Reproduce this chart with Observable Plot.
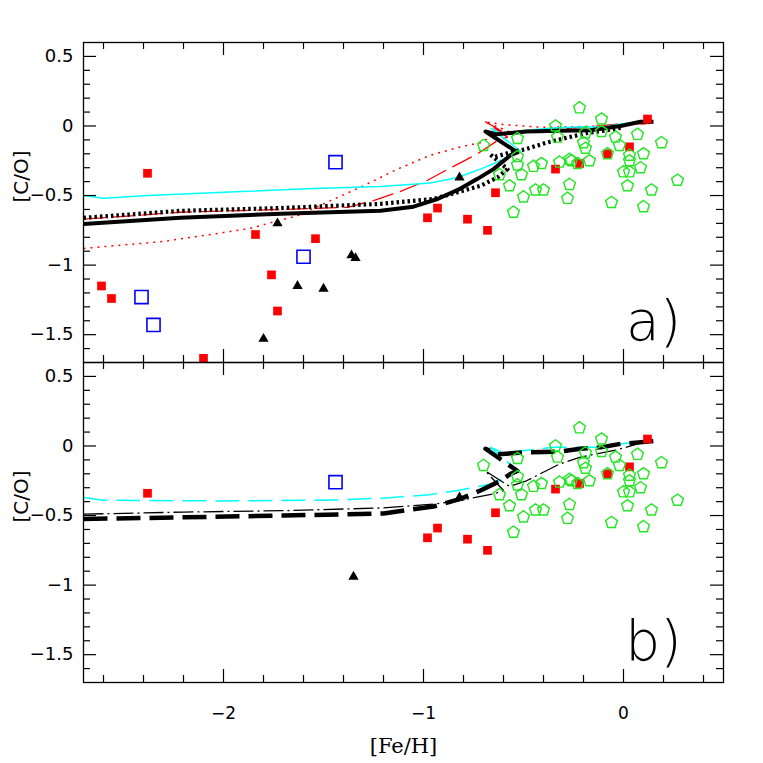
<!DOCTYPE html>
<html><head><meta charset="utf-8">
<script src="https://cdn.jsdelivr.net/npm/d3@7"></script>
<script src="https://cdn.jsdelivr.net/npm/@observablehq/plot@0.6"></script>
<style>
body{margin:0;background:#fff;}
#wrap{position:relative;width:763px;height:763px;overflow:hidden;}
#wrap svg{position:absolute;left:0;background:none !important;overflow:visible;}
</style></head><body><div id="wrap"></div>
<script>
// ---------- tick values ----------
const xMajorTicks = [-2, -1, 0];
const xMinorTicks = [-2.6, -2.4, -2.2, -1.8, -1.6, -1.4, -1.2, -0.8, -0.6, -0.4, -0.2, 0.2, 0.4];
const yMajorTicks = [0.5, 0, -0.5, -1, -1.5];
const yMinorTicks = [0.4, 0.3, 0.2, 0.1, -0.1, -0.2, -0.3, -0.4, -0.6, -0.7, -0.8, -0.9, -1.1, -1.2, -1.3, -1.4, -1.6];

// ---------- observations ([Fe/H], [C/O]) ----------
const redSquaresA = [[-2.61,-1.15],[-2.56,-1.24],[-2.38,-0.34],[-2.10,-1.67],[-1.84,-0.78],[-1.76,-1.07],[-1.73,-1.33],[-1.54,-0.81],[-0.98,-0.66],[-0.93,-0.59],[-0.78,-0.67],[-0.68,-0.75],[-0.64,-0.48],[-0.34,-0.31],[-0.22,-0.27],[-0.08,-0.20],[0.03,-0.15],[0.12,0.05]];
const blueSquaresA = [[-2.41,-1.23],[-2.35,-1.43],[-1.44,-0.26],[-1.60,-0.94]];
const trianglesA = [[-1.80,-1.53],[-1.73,-0.70],[-1.63,-1.15],[-1.50,-1.17],[-1.36,-0.93],[-1.34,-0.95],[-0.82,-0.37]];
const redSquaresB = [[-2.38,-0.34],[-0.98,-0.66],[-0.93,-0.59],[-0.78,-0.67],[-0.68,-0.75],[-0.64,-0.48],[-0.34,-0.31],[-0.22,-0.27],[-0.08,-0.20],[0.03,-0.15],[0.12,0.05]];
const blueSquaresB = [[-1.44,-0.26]];
const trianglesB = [[-1.35,-0.94],[-0.82,-0.37]];
const pentagons = [[-0.22,0.13],[-0.11,0.05],[-0.34,0.00],[-0.53,-0.09],[-0.70,-0.14],[-0.33,-0.08],[-0.19,-0.05],[-0.11,-0.04],[-0.04,-0.08],[0.07,-0.06],[0.19,-0.12],[-0.20,-0.12],[-0.19,-0.16],[-0.02,-0.14],[0.03,-0.21],[0.10,-0.20],[-0.08,-0.20],[-0.53,-0.22],[-0.53,-0.28],[-0.62,-0.35],[-0.51,-0.35],[-0.57,-0.43],[-0.45,-0.29],[-0.41,-0.27],[-0.32,-0.26],[-0.27,-0.24],[-0.26,-0.25],[-0.23,-0.27],[-0.17,-0.25],[0.03,-0.25],[0.085,-0.30],[0.00,-0.33],[0.03,-0.33],[0.02,-0.43],[0.27,-0.39],[0.14,-0.46],[-0.27,-0.42],[-0.40,-0.46],[-0.44,-0.46],[-0.50,-0.51],[-0.28,-0.52],[-0.06,-0.55],[0.10,-0.58],[-0.55,-0.62]];

// ---------- model tracks, panel a ----------
const redDotA = [[-2.7,-0.88],[-2.3,-0.83],[-1.88,-0.74],[-1.63,-0.645],[-1.465,-0.537],[-1.3,-0.43],[-1.13,-0.31],[-0.965,-0.21],[-0.815,-0.15],[-0.715,-0.12],[-0.665,-0.08],[-0.565,-0.045],[-0.69,0.03],[-0.60,0.01],[-0.4,-0.01],[-0.1,0.0],[0.15,0.02]];
const redDashA = [[-2.7,-0.67],[-2.215,-0.62],[-1.715,-0.60],[-1.38,-0.585],[-1.25,-0.537],[-1.115,-0.47],[-0.98,-0.39],[-0.85,-0.29],[-0.73,-0.20],[-0.63,-0.105],[-0.58,-0.08],[-0.69,0.03],[-0.60,-0.045],[-0.485,-0.035],[-0.215,-0.01],[-0.015,0.015],[0.15,0.015]];
const cyanA = [[-2.7,-0.50],[-2.6,-0.52],[-2.38,-0.50],[-1.88,-0.47],[-1.55,-0.45],[-1.215,-0.435],[-0.965,-0.41],[-0.83,-0.37],[-0.715,-0.31],[-0.615,-0.25],[-0.515,-0.18],[-0.66,-0.02],[-0.60,-0.06],[-0.485,-0.03],[-0.35,-0.015],[-0.215,-0.005],[-0.115,-0.01],[-0.015,0.015],[0.14,0.04]];
const blackDotA = [[-2.7,-0.66],[-2.215,-0.61],[-1.715,-0.59],[-1.215,-0.56],[-0.95,-0.525],[-0.815,-0.47],[-0.715,-0.43],[-0.63,-0.37],[-0.58,-0.31],[-0.67,-0.20],[-0.65,-0.225],[-0.565,-0.19],[-0.485,-0.165],[-0.385,-0.12],[-0.27,-0.08],[-0.18,-0.05],[-0.08,-0.03],[0.0,-0.01]];
const blackSolidA = [[-2.7,-0.705],[-2.215,-0.66],[-1.715,-0.63],[-1.215,-0.61],[-1.05,-0.58],[-0.93,-0.525],[-0.815,-0.45],[-0.73,-0.38],[-0.65,-0.31],[-0.565,-0.21],[-0.53,-0.19],[-0.69,-0.04],[-0.635,-0.06],[-0.485,-0.04],[-0.32,-0.035],[-0.165,-0.03],[-0.015,0.0],[0.085,0.03],[0.15,0.03]];

// ---------- model tracks, panel b ----------
const cyanB = [[-2.7,-0.37],[-2.6,-0.39],[-2.0,-0.395],[-1.5,-0.39],[-1.2,-0.375],[-0.97,-0.35],[-0.83,-0.32],[-0.65,-0.27],[-0.55,-0.20],[-0.53,-0.18],[-0.665,-0.01],[-0.60,-0.05],[-0.35,-0.01],[-0.08,-0.01],[-0.015,0.015],[0.135,0.04]];
const dashDotB = [[-2.7,-0.49],[-2.2,-0.475],[-1.7,-0.465],[-1.2,-0.445],[-0.93,-0.415],[-0.815,-0.39],[-0.65,-0.345],[-0.60,-0.32],[-0.69,-0.18],[-0.57,-0.29],[-0.485,-0.25],[-0.32,-0.13],[-0.215,-0.08],[-0.04,-0.03],[0.085,0.02],[0.15,0.03]];
const blackDashB = [[-2.7,-0.525],[-2.2,-0.513],[-1.7,-0.50],[-1.2,-0.485],[-0.95,-0.435],[-0.815,-0.38],[-0.715,-0.32],[-0.615,-0.25],[-0.565,-0.20],[-0.53,-0.18],[-0.69,-0.02],[-0.63,-0.06],[-0.485,-0.045],[-0.32,-0.04],[-0.215,-0.02],[-0.115,-0.01],[-0.015,0.015],[0.15,0.035]];

// ---------- drawing ----------
const fmt = v => v < 0 ? "\u2212" + String(Math.abs(v)) : String(v);
const pentagonSymbol = {
  draw(ctx, size) {
    const r = Math.sqrt(size / Math.PI);
    for (let i = 0; i < 5; i++) {
      const a = -Math.PI / 2 + i * 2 * Math.PI / 5;
      const px = r * Math.cos(a), py = r * Math.sin(a);
      if (i) ctx.lineTo(px, py); else ctx.moveTo(px, py);
    }
    ctx.closePath();
  }
};

function panel({top, height, mTop, mBottom, lines, reds, blues, tris, label, xAxis}) {
  const W = 763, ML = 83, MR = 40;
  const FH = height - mTop - mBottom, FW = W - ML - MR;
  const tk = {stroke: "black", strokeWidth: 1.2};
  const marks = [];
  for (const L of lines) {
    marks.push(Plot.line(L.data, {x: d => d[0], y: d => d[1], stroke: L.color, strokeWidth: L.width,
      strokeDasharray: L.dash, strokeLinejoin: "round", strokeLinecap: "butt"}));
  }
  marks.push(
    Plot.dot(reds, {x: d => d[0], y: d => d[1], symbol: "square", r: 4.9, fill: "#ff0000"}),
    Plot.dot(blues, {x: d => d[0], y: d => d[1], symbol: "square", r: 7.4, fill: "none", stroke: "#0000ff", strokeWidth: 1.6}),
    Plot.dot(tris, {x: d => d[0], y: d => d[1], symbol: "triangle", r: 3.8, fill: "black"}),
    Plot.dot(pentagons, {x: d => d[0], y: d => d[1], symbol: pentagonSymbol, r: 6.2, fill: "none", stroke: "#22e622", strokeWidth: 1.4}),
    Plot.frame({stroke: "black", strokeWidth: 1.3}),
    // inward ticks on all four sides
    Plot.tickX(xMajorTicks, {x: d => d, insetTop: FH - 13, ...tk}),
    Plot.tickX(xMinorTicks, {x: d => d, insetTop: FH - 7, ...tk}),
    Plot.tickX(xMajorTicks, {x: d => d, insetBottom: FH - 13, ...tk}),
    Plot.tickX(xMinorTicks, {x: d => d, insetBottom: FH - 7, ...tk}),
    Plot.tickY(yMajorTicks, {y: d => d, insetRight: FW - 13, ...tk}),
    Plot.tickY(yMinorTicks, {y: d => d, insetRight: FW - 7, ...tk}),
    Plot.tickY(yMajorTicks, {y: d => d, insetLeft: FW - 13, ...tk}),
    Plot.tickY(yMinorTicks, {y: d => d, insetLeft: FW - 7, ...tk}),
    Plot.text(yMajorTicks, {y: d => d, text: fmt, frameAnchor: "left", textAnchor: "end", dx: -10,
      fontSize: 18, fontFamily: "DejaVu Sans", fill: "black"}),
    Plot.text(["[C/O]"], {frameAnchor: "left", dx: -62, rotate: -90, fontSize: 20, fontFamily: "DejaVu Sans", fill: "black"}),
    Plot.text([label], {frameAnchor: "bottom-right", dx: -70, dy: -40, textAnchor: "middle", lineAnchor: "middle",
      fontSize: 55, fontWeight: 200, fontFamily: "DejaVu Sans", fill: "black"})
  );
  if (xAxis) {
    marks.push(
      Plot.text(xMajorTicks, {x: d => d, text: fmt, frameAnchor: "bottom", dy: 31, lineAnchor: "middle",
        fontSize: 17, fontFamily: "DejaVu Sans", fill: "black"}),
      Plot.text(["[Fe/H]"], {frameAnchor: "bottom", dy: 64, lineAnchor: "middle", fontSize: 21,
        fontFamily: "DejaVu Serif", fill: "black"})
    );
  }
  const svg = Plot.plot({
    width: W, height, marginLeft: ML, marginRight: MR, marginTop: mTop, marginBottom: mBottom,
    x: {domain: [-2.7, 0.5], axis: null},
    y: {domain: [-1.7, 0.6], axis: null},
    marks
  });
  svg.style.top = top + "px";
  return svg;
}

const wrap = document.getElementById("wrap");
wrap.appendChild(panel({
  top: 0, height: 364, mTop: 42, mBottom: 2, label: "a)", xAxis: false,
  reds: redSquaresA, blues: blueSquaresA, tris: trianglesA,
  lines: [
    {data: redDotA, color: "#ff0000", width: 1.5, dash: "2,5"},
    {data: redDashA, color: "#ff0000", width: 1.3, dash: "22,7"},
    {data: cyanA, color: "#00ffff", width: 1.5, dash: null},
    {data: blackDotA, color: "black", width: 4.2, dash: "2.5,3"},
    {data: blackSolidA, color: "black", width: 4, dash: null}
  ]
}));
wrap.appendChild(panel({
  top: 360, height: 403, mTop: 2, mBottom: 81, label: "b)", xAxis: true,
  reds: redSquaresB, blues: blueSquaresB, tris: trianglesB,
  lines: [
    {data: cyanB, color: "#00ffff", width: 1.5, dash: "24,9"},
    {data: dashDotB, color: "black", width: 1.3, dash: "20,4,2,4"},
    {data: blackDashB, color: "black", width: 4.5, dash: "24,9"}
  ]
}));
</script></body></html>
